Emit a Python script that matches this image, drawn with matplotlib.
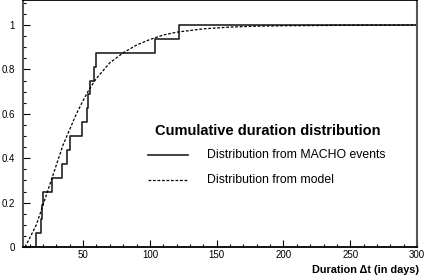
import matplotlib
matplotlib.use("Agg")
import matplotlib.pyplot as plt
from matplotlib.lines import Line2D
from matplotlib.ticker import MultipleLocator
import numpy as np

plt.rcParams['font.family'] = ['Liberation Sans', 'DejaVu Sans']

# durations of the MACHO events (days)
event_days = [15, 18.8, 19.3, 20, 26.5, 34, 38, 40.5, 49.2, 53, 54, 55.4, 58.5, 60, 104, 122]

# model cumulative distribution
model_days = [6.5, 10, 15, 20, 25, 30, 35, 40, 45, 50, 55, 60, 70, 80, 90, 100,
              110, 120, 140, 160, 180, 200, 250, 300]
model_frac = [0.0, 0.04, 0.10, 0.19, 0.28, 0.37, 0.46, 0.53, 0.60, 0.66, 0.715, 0.76,
              0.83, 0.875, 0.91, 0.935, 0.955, 0.968, 0.983, 0.991, 0.995, 0.997,
              0.999, 1.0]

x_ticks = [50, 100, 150, 200, 250, 300]
y_ticks = [0, 0.2, 0.4, 0.6, 0.8, 1]
y_labels = ["0", "0.2", "0.4", "0.6", "0.8", "1"]

fig = plt.figure(figsize=(4.25, 2.77), dpi=100)
ax = fig.add_axes([23/425, 30/277, 394/425, 247/277])

n = len(event_days)
xs = [5] + event_days + [300]
ys = [0] + list(np.arange(1, n + 1) / n) + [1]
ax.step(xs, ys, where='post', color='#222222', lw=1.2)
ax.plot(model_days, model_frac, color='black', lw=0.9, dashes=(2.2, 1.4))

ax.set_xlim(5, 300)
ax.set_ylim(0, 1.113)
ax.set_xticks(x_ticks)
ax.set_xticklabels([str(v) for v in x_ticks])
ax.set_yticks(y_ticks)
ax.set_yticklabels(y_labels)
ax.xaxis.set_minor_locator(MultipleLocator(10))
ax.yaxis.set_minor_locator(MultipleLocator(0.05))
ax.tick_params(which='both', direction='in', labelsize=7, top=False, right=False)
ax.tick_params(which='major', length=5, width=0.8)
ax.tick_params(which='minor', length=2.5, width=0.8)
ax.tick_params(axis='y', pad=6)
ax.tick_params(axis='x', pad=2.5)

for s in ['left', 'right']:
    ax.spines[s].set_color('#555555')
    ax.spines[s].set_linewidth(1.5)
for s in ['top', 'bottom']:
    ax.spines[s].set_color('black')
    ax.spines[s].set_linewidth(1.3)

# legend block
ax.text(0.335, 0.471, "Cumulative duration distribution", transform=ax.transAxes,
        fontsize=10.5, fontweight='bold', va='center', ha='left')
ax.add_line(Line2D([0.317, 0.419], [0.3725, 0.3725], transform=ax.transAxes,
                   color='#222222', lw=1.2))
ax.text(0.466, 0.3725, "Distribution from MACHO events", transform=ax.transAxes,
        fontsize=8.8, va='center', ha='left')
ax.add_line(Line2D([0.317, 0.419], [0.271, 0.271], transform=ax.transAxes,
                   color='black', lw=0.9, dashes=(2.2, 1.4)))
ax.text(0.466, 0.271, "Distribution from model", transform=ax.transAxes,
        fontsize=8.8, va='center', ha='left')

fig.text(419/425, 1 - 270/277, "Duration \u0394t (in days)", fontsize=7.8,
         fontweight='bold', ha='right', va='center')

fig.savefig("out.png", dpi=100)
